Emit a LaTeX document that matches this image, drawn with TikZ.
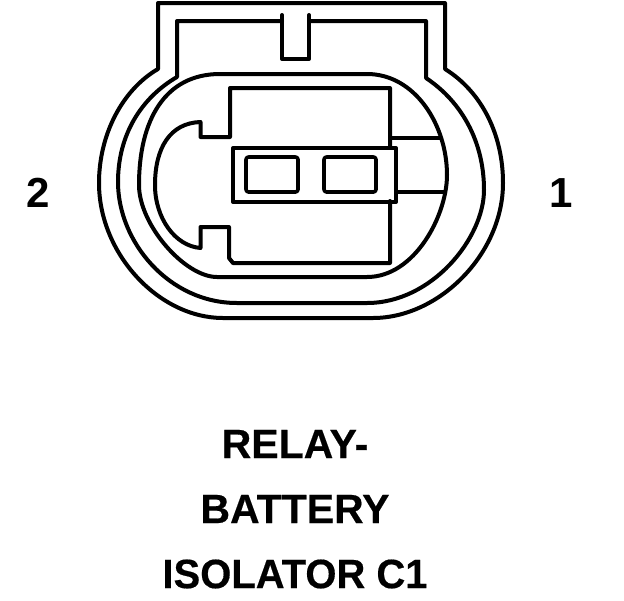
\documentclass[tikz,border=0pt]{standalone}
\usepackage{fontspec}
\usepackage{graphicx}
\setmainfont{Liberation Sans}
\tikzset{
  heavy/.style={line width=4pt,line join=round,line cap=round,black},
  medium/.style={line width=3.6pt,line join=round,line cap=round,black},
  pinlabel/.style={font=\fontsize{42}{42}\selectfont\bfseries,inner sep=0pt,anchor=center},
  title/.style={font=\fontsize{41}{41}\selectfont\bfseries\addfontfeature{FakeBold=0.4},inner sep=0pt,anchor=center}
}
\begin{document}
\begin{tikzpicture}[x=1pt,y=-1pt]
\useasboundingbox (0,0) rectangle (624,600);
\fill[white] (0,0) rectangle (624,600);
% outer shell
\draw[heavy] (158,69) -- (158,3) -- (445,3) -- (445,69)
  .. controls (482,92) and (503,135) .. (503,183)
  .. controls (503,254) and (439,318) .. (373,318) -- (223,318)
  .. controls (159,318) and (99,254) .. (99,183)
  .. controls (99,135) and (122,90) .. (158,69);
% middle shell with notch
\draw[heavy] (282,21) -- (177,21) -- (177,77)
  .. controls (141,98) and (118,135) .. (118,182)
  .. controls (118,242) and (169,303) .. (237,303) -- (367,303)
  .. controls (432,303) and (484,238) .. (484,190)
  .. controls (484,142) and (462,102) .. (426,78) -- (426,21) -- (309,21);
\draw[heavy] (282,15) -- (282,59) -- (309,59) -- (309,15);
% inner shell
\draw[heavy] (220,74) -- (367,74)
  .. controls (415,74) and (447,125) .. (447,175)
  .. controls (447,215) and (415,277) .. (367,277) -- (217,277)
  .. controls (185,277) and (139,225) .. (139,185)
  .. controls (139,120) and (165,74) .. (220,74);
% latch body
\draw[heavy] (390,146) -- (390,88) -- (230,88) -- (230,137) -- (200.5,137) -- (200.5,122)
  .. controls (170,123) and (155,148) .. (155,185)
  .. controls (155,218) and (175,246) .. (200.5,248)
  -- (200.5,227) -- (229,227) -- (229,258) -- (233,263) -- (390,263) -- (390,201);
% terminal block
\draw[heavy] (233,148) -- (396,148) -- (396,202) -- (233,202) -- cycle;
\draw[medium,rounded corners=2.5pt] (246,157) rectangle (298,192);
\draw[medium,rounded corners=2.5pt] (324,157) rectangle (376,192);
\draw[medium] (390,138) -- (440,138);
\draw[medium] (396,192) -- (444,192);
% labels
\node[pinlabel] (pin2) at (38,193) {2};
\node[pinlabel] (pin1) at (561,193) {1};
\node[title] (t1) at (295,444) {RELAY-};
\node[title] (t2) at (295,509) {BATTERY};
\node[title] (t3) at (295,574) {\scalebox{0.975}[1]{ISOLATOR C1}};
\end{tikzpicture}
\end{document}
